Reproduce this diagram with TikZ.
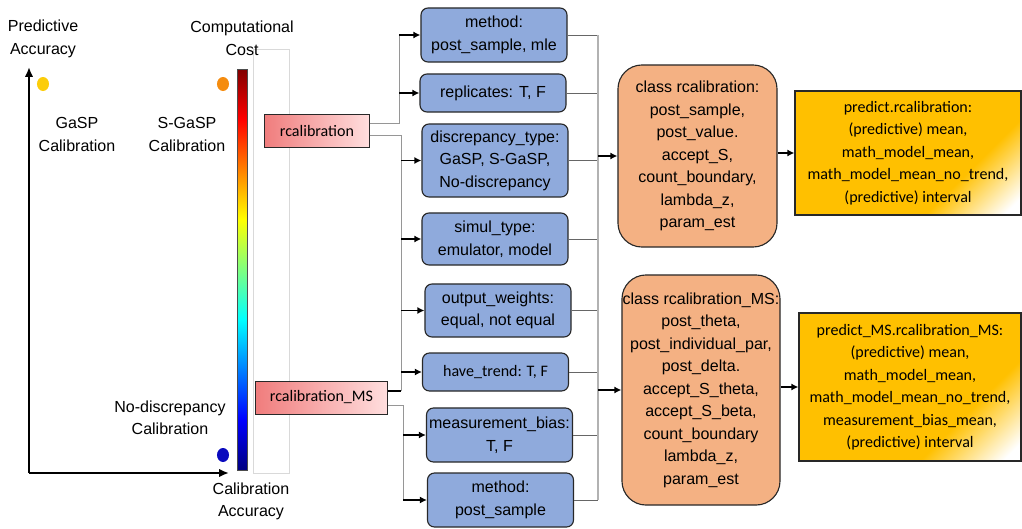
\documentclass[tikz,border=0pt]{standalone}
\usepackage{fontspec}
\setmainfont{Liberation Sans}
\newfontfamily\calfont{Carlito}
\usepackage{tikz}
\usetikzlibrary{shapes.geometric}
\usetikzlibrary{arrows.meta}
\usepackage{xcolor}

\definecolor{optblue}{RGB}{143,170,220}
\definecolor{classorange}{RGB}{244,177,131}
\definecolor{predgold}{RGB}{255,192,0}
\definecolor{pinkleft}{RGB}{240,125,125}
\definecolor{pinkright}{RGB}{255,222,222}
\definecolor{boxline}{RGB}{40,40,40}
\definecolor{wiregray}{RGB}{150,150,150}
\definecolor{jetA}{RGB}{0,0,128}
\definecolor{jetB}{RGB}{0,0,255}
\definecolor{jetC}{RGB}{0,255,255}
\definecolor{jetD}{RGB}{255,255,0}
\definecolor{jetE}{RGB}{255,0,0}
\definecolor{jetF}{RGB}{128,0,0}
\pgfdeclarehorizontalshading{goldfade}{100bp}{color(0bp)=(predgold); color(66bp)=(predgold); color(82bp)=(white); color(100bp)=(white)}
\newcommand{\diagfont}{\fontsize{11.4}{16}\selectfont}

\begin{document}
\begin{tikzpicture}[x=0.025cm,y=-0.025cm,
	txt/.style={align=center, font=\diagfont},
	dot/.style={ellipse, minimum width=0.3cm, minimum height=0.35cm, inner sep=0pt},
	axis/.style={line width=1.8pt, -{Latex[length=7pt,width=6pt]}},
	fn node/.style={draw=boxline, line width=0.7pt, left color=pinkleft, right color=pinkright, minimum height=0.825cm, inner sep=1pt, font=\calfont\diagfont},
	opt node/.style={draw=boxline, line width=0.8pt, fill=optblue, rounded corners=5pt, align=center, minimum width=3.65cm, inner sep=1pt, font=\diagfont},
	class node/.style={draw=boxline, line width=0.8pt, fill=classorange, rounded corners=0.6cm, align=center, inner sep=0pt, font=\diagfont},
	pred node/.style={draw=boxline, line width=0.8pt, shading=goldfade, shading angle=-45, align=center, inner sep=1pt, font=\calfont\diagfont},
	wire/.style={wiregray, line width=0.6pt},
	arr/.style={-{Latex[length=5pt,width=5pt]}, line width=1.4pt}]
	\useasboundingbox (0,0) rectangle (1022,528);
	
	% Cost frame and colour bar
	\draw[black!15, line width=0.6pt] (253,49) rectangle (289,473);
	\foreach \lo/\hi/\cl/\ch in {0/0.125/jetA/jetB, 0.125/0.375/jetB/jetC, 0.375/0.625/jetC/jetD, 0.625/0.875/jetD/jetE, 0.875/1/jetE/jetF}
	\shade[bottom color=\cl, top color=\ch] (237,{470-401*\lo}) rectangle (247,{470-401*\hi});
	\draw[black!70, line width=0.5pt] (237,69) rectangle (247,470);
	
	% Axes
	\coordinate (o) at (29,473);
	\coordinate (ytop) at (29,67);
	\coordinate (xend) at (229,473);
	\draw[axis] (o) -- (ytop);
	\draw[axis] (o) -- (xend);
	
	\node[txt] (pa) at (43,39) {Predictive\\Accuracy};
	\node[txt] (cc) at (242,38.5) {Computational\\Cost};
	\node[txt] (ca) at (251,501.5) {Calibration\\Accuracy};
	\node[txt] (gasp) at (77,134.5) {GaSP\\Calibration};
	\node[txt] (sgasp) at (187,134.5) {S-GaSP\\Calibration};
	\node[txt] (nodis) at (170,418) {No-discrepancy\\Calibration};
	
	\node[dot, fill={rgb,255:red,252;green,205;blue,10}] (d1) at (43,84) {};
	\node[dot, fill={rgb,255:red,245;green,140;blue,15}] (d2) at (223,84) {};
	\node[dot, fill={rgb,255:red,10;green,10;blue,190}] (d3) at (223,455) {};
	
	% Nodes
	\node[fn node, minimum width=2.6cm] (rc) at (317,130.5) {rcalibration};
	\node[fn node, minimum width=3.275cm] (rcms) at (321.5,397.5) {rcalibration\_MS};
	
	\node[opt node, minimum height=1.35cm] (m1) at (494,35) {method:\\post\_sample, mle};
	\node[opt node, minimum height=0.95cm] (rep) at (493,93) {replicates: T, F};
	\node[opt node, minimum height=1.825cm] (dt) at (495,160.5) {discrepancy\_type:\\GaSP, S-GaSP,\\No-discrepancy};
	\node[opt node, minimum height=1.3cm] (st) at (495,239) {simul\_type:\\emulator, model};
	\node[opt node, minimum height=1.325cm] (ow) at (498,310.5) {output\_weights:\\equal, not equal};
	\node[opt node, minimum height=0.95cm, font=\calfont\diagfont] (ht) at (495.5,372) {have\_trend: T, F};
	\node[opt node, minimum height=1.35cm] (mb) at (499.5,435) {measurement\_bias:\\T, F};
	\node[opt node, minimum height=1.35cm] (m2) at (500.5,500) {method:\\post\_sample};
	
	\node[class node, minimum width=3.975cm, minimum height=4.55cm] (cr) at (697.5,156) {class rcalibration:\\post\_sample,\\post\_value.\\accept\_S,\\count\_boundary,\\lambda\_z,\\param\_est};
	\node[class node, minimum width=3.95cm, minimum height=5.75cm] (cms) at (701,390) {class rcalibration\_MS:\\post\_theta,\\post\_individual\_par,\\post\_delta.\\accept\_S\_theta,\\accept\_S\_beta,\\count\_boundary\\lambda\_z,\\param\_est};
	
	\node[pred node, minimum width=5.65cm, minimum height=3.1cm] (pr) at (908,153) {predict.rcalibration:\\(predictive) mean,\\math\_model\_mean,\\math\_model\_mean\_no\_trend,\\(predictive) interval};
	\node[pred node, minimum width=5.55cm, minimum height=3.7cm] (pms) at (910,387) {predict\_MS.rcalibration\_MS:\\(predictive) mean,\\math\_model\_mean,\\math\_model\_mean\_no\_trend,\\measurement\_bias\_mean,\\(predictive) interval};
	
	% Connectors
	\coordinate (lbus) at (399,0);
	\coordinate (mbus) at (401,0);
	\coordinate (nbus) at (403,0);
	\coordinate (rbus) at (598,0);
	
	\draw[wire] (rc.8) -| (m1.west -| lbus);
	\draw[wire] (rc.-5) -| (rcms.6.5 -| mbus);
	\draw[line width=1.4pt] (rcms.6.5) -- (rcms.6.5 -| mbus);
	\draw[wire] (rcms.-7) -| (m2.west -| nbus);
	
	\path[arr]
	(m1.west -| lbus) edge (m1)
	(rep.west -| lbus) edge (rep)
	(dt.west -| mbus) edge (dt)
	(st.west -| mbus) edge (st)
	(ow.west -| mbus) edge (ow)
	(ht.west -| mbus) edge (ht)
	(mb.west -| nbus) edge (mb)
	(m2.west -| nbus) edge (m2);
	
	\foreach \b in {m1,rep,dt,st,ow,ht,mb,m2}
	\draw[black!60, line width=0.5pt] (\b.east) -- (\b.east -| rbus);
	\draw[black!30, line width=1pt] (m1.east -| rbus) -- (m2.east -| rbus);
	
	\path[arr]
	(cr.west -| rbus) edge (cr)
	(cms.west -| rbus) edge (cms)
	(pr.west -| cr.east) edge (pr)
	(pms.west -| cms.east) edge (pms);
	
\end{tikzpicture}
\end{document}
